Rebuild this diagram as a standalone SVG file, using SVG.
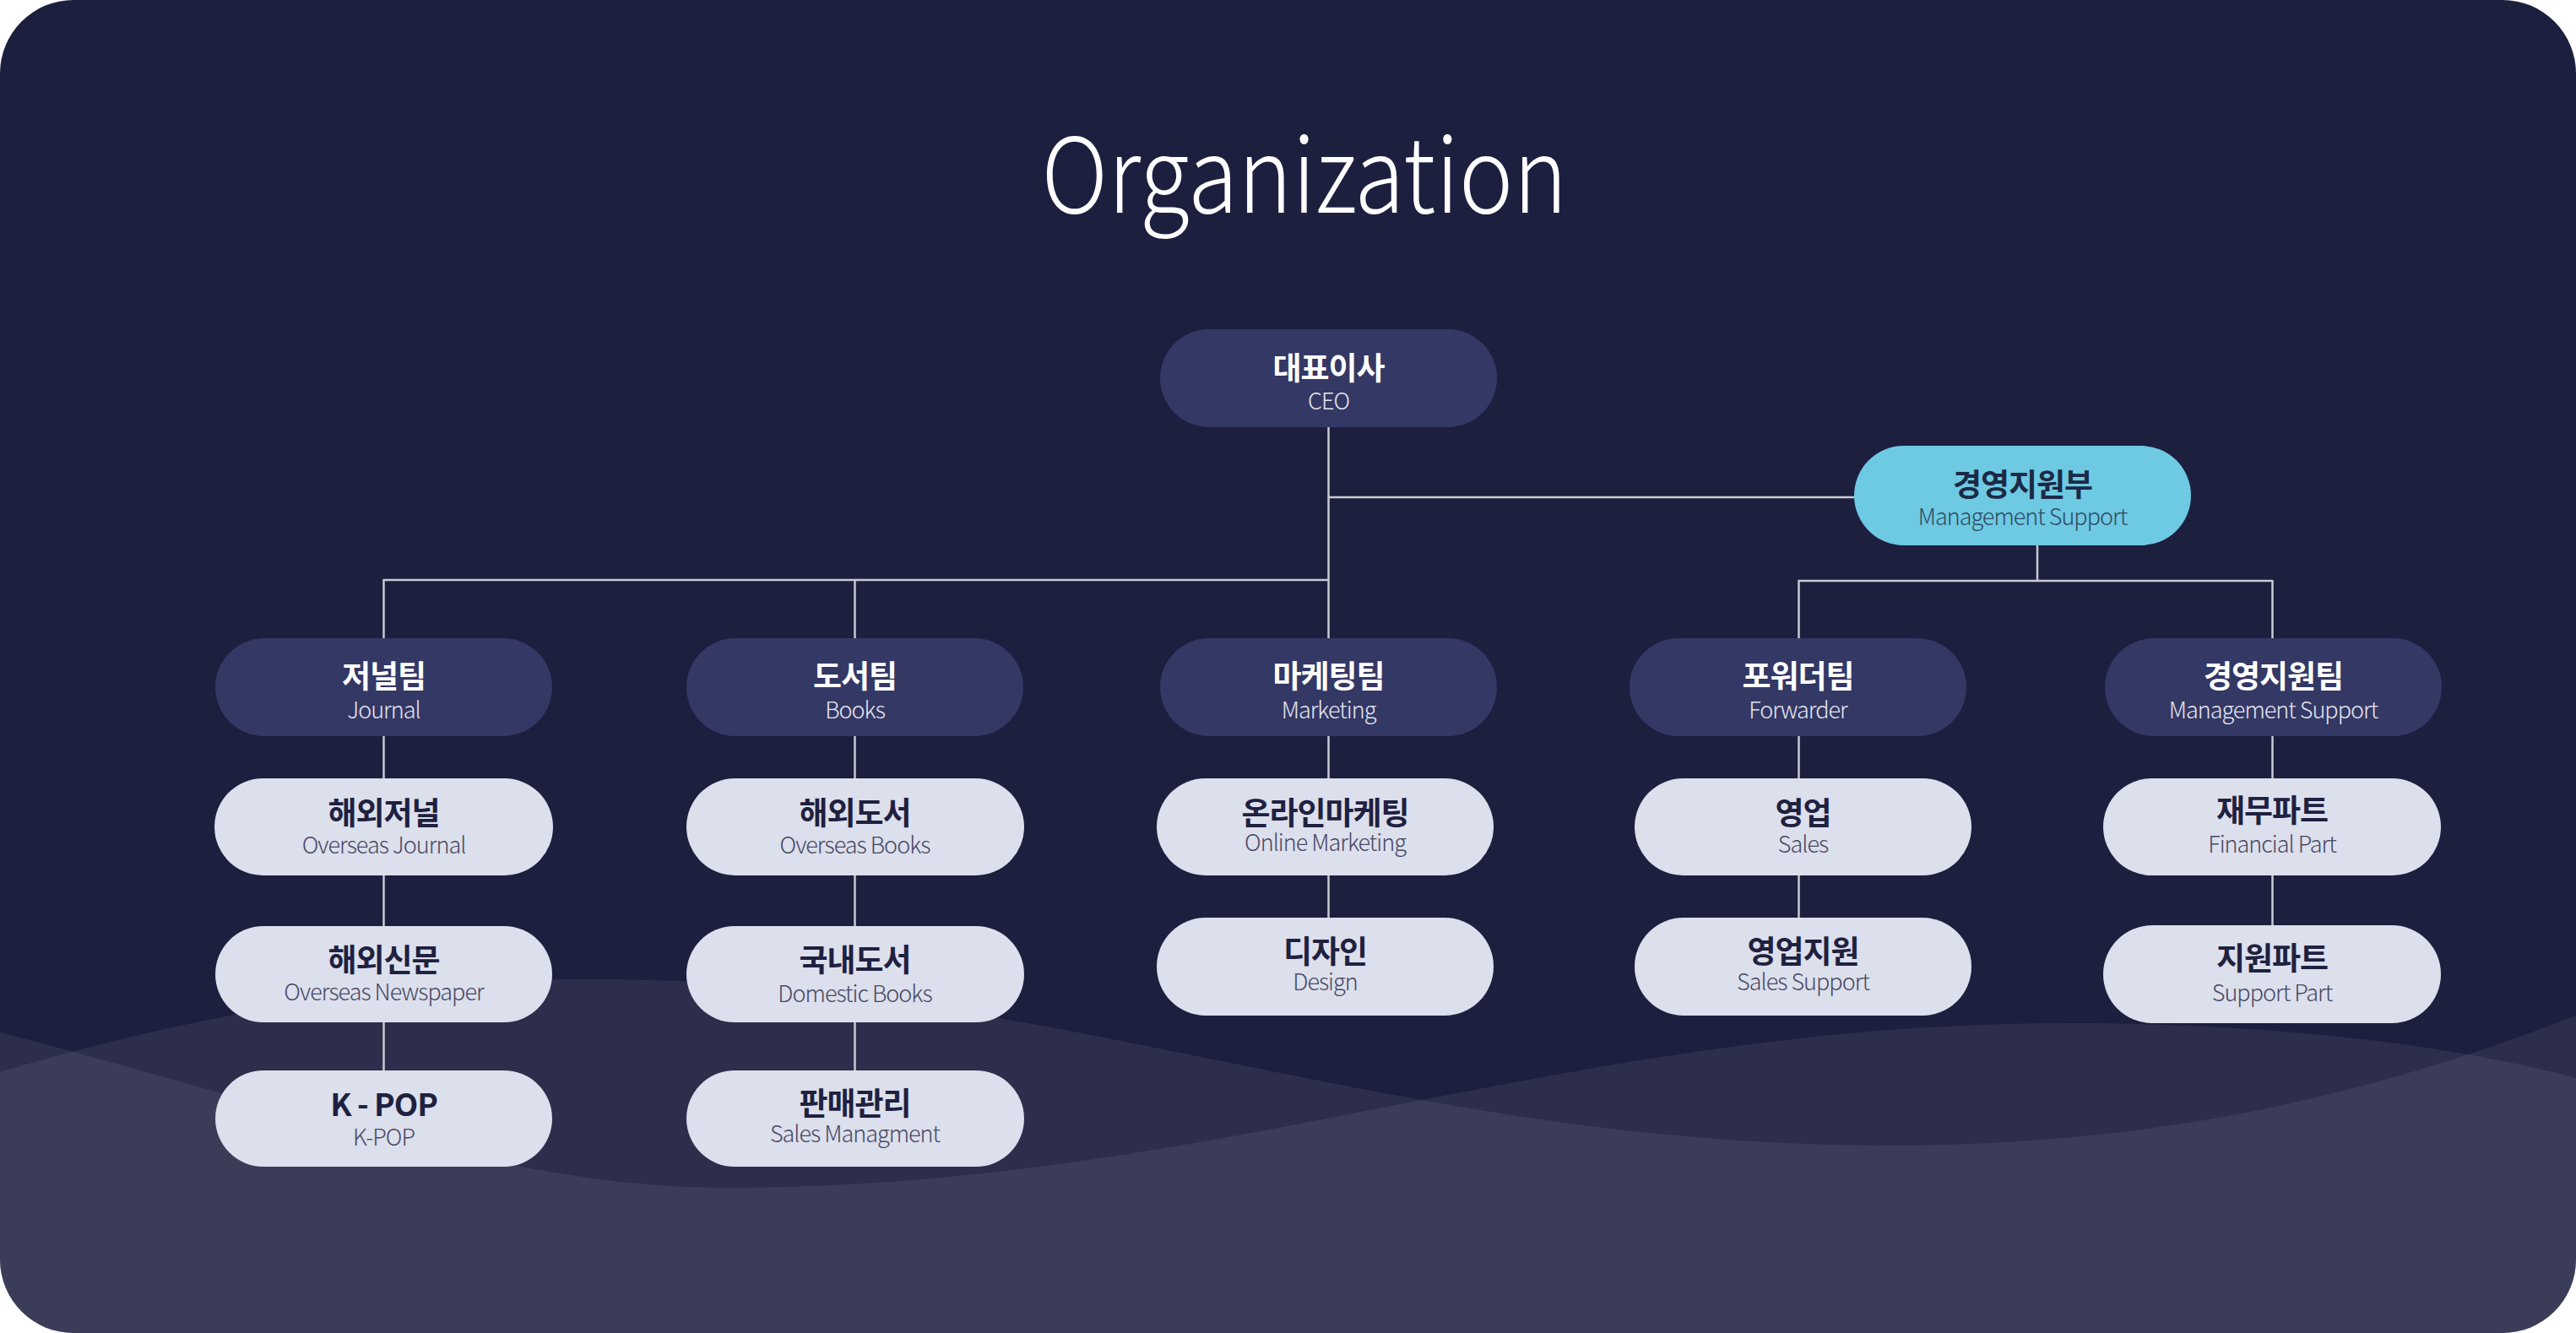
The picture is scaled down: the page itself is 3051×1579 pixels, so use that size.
<svg xmlns="http://www.w3.org/2000/svg" width="3051" height="1579" viewBox="0 0 3051 1579">
<defs>
<clipPath id="card"><rect x="0" y="0" width="3051" height="1579" rx="87" ry="87"/></clipPath>
<style>
.kd{font-family:"Noto Sans CJK KR","Noto Sans",sans-serif;font-weight:700;font-size:37px;fill:#ffffff;text-anchor:middle;letter-spacing:-1px}
.ed{font-family:"Noto Sans CJK KR","Noto Sans",sans-serif;font-weight:300;font-size:27px;fill:#e4e5ef;text-anchor:middle;letter-spacing:-1px}
.kl{font-family:"Noto Sans CJK KR","Noto Sans",sans-serif;font-weight:700;font-size:37px;fill:#1f2140;text-anchor:middle;letter-spacing:-1px}
.el{font-family:"Noto Sans CJK KR","Noto Sans",sans-serif;font-weight:300;font-size:27px;fill:#474963;text-anchor:middle;letter-spacing:-1px}
.kc{font-family:"Noto Sans CJK KR","Noto Sans",sans-serif;font-weight:700;font-size:37px;fill:#1b2a46;text-anchor:middle;letter-spacing:-1px}
.ec{font-family:"Noto Sans CJK KR","Noto Sans",sans-serif;font-weight:300;font-size:27px;fill:#2e4b62;text-anchor:middle;letter-spacing:-1px}
.dark{fill:#343865}
.light{fill:#dcdfec}
.cyan{fill:#6ec9e2}
.ln{stroke:#c9cad3;stroke-width:2.5;fill:none}
.title{font-family:"Noto Sans CJK KR","Noto Sans",sans-serif;font-weight:300;font-size:123px;fill:#ffffff;text-anchor:middle}
</style>
</defs>
<rect x="0" y="0" width="3051" height="1579" fill="#ffffff"/>
<g clip-path="url(#card)">
<rect x="0" y="0" width="3051" height="1579" fill="#1d1f3f"/>
<path d="M0,1270 C200,1210 450,1160 700,1160 C1250,1160 1650,1357 2237,1357 C2600,1357 2850,1280 3051,1203 L3051,1579 L0,1579 Z" fill="#ffffff" fill-opacity="0.07"/>
<path d="M0,1223 C300,1300 600,1407 856,1407 C1450,1407 1850,1212 2451,1212 C2750,1212 2950,1250 3051,1277 L3051,1579 L0,1579 Z" fill="#ffffff" fill-opacity="0.07"/>
</g>
<text class="title" x="1545" y="252" textLength="623" lengthAdjust="spacingAndGlyphs">Organization</text>
<g id="connectors">
<line class="ln" x1="1573.5" y1="506" x2="1573.5" y2="756"/>
<line class="ln" x1="1573.5" y1="589" x2="2197" y2="589" stroke-width="3" stroke="#a9aab6"/>
<line class="ln" x1="454.5" y1="687" x2="1573.5" y2="687"/>
<line class="ln" x1="454.5" y1="686" x2="454.5" y2="756"/>
<line class="ln" x1="1012.5" y1="686" x2="1012.5" y2="756"/>
<line class="ln" x1="2413" y1="646" x2="2413" y2="688"/>
<line class="ln" x1="2130.5" y1="688" x2="2691.5" y2="688"/>
<line class="ln" x1="2130.5" y1="687" x2="2130.5" y2="756"/>
<line class="ln" x1="2691.5" y1="687" x2="2691.5" y2="756"/>
<line class="ln" x1="454.5" y1="872" x2="454.5" y2="1268"/>
<line class="ln" x1="1012.5" y1="872" x2="1012.5" y2="1268"/>
<line class="ln" x1="1573.5" y1="872" x2="1573.5" y2="1087"/>
<line class="ln" x1="2130.5" y1="872" x2="2130.5" y2="1087"/>
<line class="ln" x1="2691.5" y1="872" x2="2691.5" y2="1096"/>
</g>
<g id="ceo"><rect class="dark" x="1374" y="390" width="399" height="116" rx="58"/><text class="kd" x="1573.5" y="450">대표이사</text><text class="ed" x="1573.5" y="485">CEO</text></g>
<g id="mgmt-dept"><rect class="cyan" x="2196" y="528" width="399" height="118" rx="59"/><text class="kc" x="2395.5" y="588">경영지원부</text><text class="ec" x="2395.5" y="622">Management Support</text></g>
<g id="journal"><rect class="dark" x="255" y="756" width="399" height="116" rx="58"/><text class="kd" x="454.5" y="815">저널팀</text><text class="ed" x="454.5" y="851">Journal</text></g>
<g id="books"><rect class="dark" x="813" y="756" width="399" height="116" rx="58"/><text class="kd" x="1012.5" y="815">도서팀</text><text class="ed" x="1012.5" y="851">Books</text></g>
<g id="marketing"><rect class="dark" x="1374" y="756" width="399" height="116" rx="58"/><text class="kd" x="1573.5" y="815">마케팅팀</text><text class="ed" x="1573.5" y="851">Marketing</text></g>
<g id="forwarder"><rect class="dark" x="1930" y="756" width="399" height="116" rx="58"/><text class="kd" x="2129.5" y="815">포워더팀</text><text class="ed" x="2129.5" y="851">Forwarder</text></g>
<g id="mgmt-team"><rect class="dark" x="2493" y="756" width="399" height="116" rx="58"/><text class="kd" x="2692.5" y="815">경영지원팀</text><text class="ed" x="2692.5" y="851">Management Support</text></g>
<g id="overseas-journal"><rect class="light" x="254" y="922" width="401" height="115" rx="57.5"/><text class="kl" x="454.5" y="977">해외저널</text><text class="el" x="454.5" y="1011">Overseas Journal</text></g>
<g id="overseas-newspaper"><rect class="light" x="255" y="1097" width="399" height="114" rx="57"/><text class="kl" x="454.5" y="1151">해외신문</text><text class="el" x="454.5" y="1185">Overseas Newspaper</text></g>
<g id="kpop"><rect class="light" x="255" y="1268" width="399" height="114" rx="57"/><text class="kl" x="454.5" y="1322">K - POP</text><text class="el" x="454.5" y="1357">K-POP</text></g>
<g id="overseas-books"><rect class="light" x="813" y="922" width="400" height="115" rx="57.5"/><text class="kl" x="1012.5" y="977">해외도서</text><text class="el" x="1012.5" y="1011">Overseas Books</text></g>
<g id="domestic-books"><rect class="light" x="813" y="1097" width="400" height="114" rx="57"/><text class="kl" x="1012.5" y="1151">국내도서</text><text class="el" x="1012.5" y="1187">Domestic Books</text></g>
<g id="sales-mgmt"><rect class="light" x="813" y="1268" width="400" height="114" rx="57"/><text class="kl" x="1012.5" y="1321">판매관리</text><text class="el" x="1012.5" y="1353">Sales Managment</text></g>
<g id="online-marketing"><rect class="light" x="1370" y="922" width="399" height="115" rx="57.5"/><text class="kl" x="1569.5" y="977">온라인마케팅</text><text class="el" x="1569.5" y="1008">Online Marketing</text></g>
<g id="design"><rect class="light" x="1370" y="1087" width="399" height="116" rx="58"/><text class="kl" x="1569.5" y="1141">디자인</text><text class="el" x="1569.5" y="1173">Design</text></g>
<g id="sales"><rect class="light" x="1936" y="922" width="399" height="115" rx="57.5"/><text class="kl" x="2135.5" y="977">영업</text><text class="el" x="2135.5" y="1010">Sales</text></g>
<g id="sales-support"><rect class="light" x="1936" y="1087" width="399" height="116" rx="58"/><text class="kl" x="2135.5" y="1141">영업지원</text><text class="el" x="2135.5" y="1173">Sales Support</text></g>
<g id="financial"><rect class="light" x="2491" y="922" width="400" height="115" rx="57.5"/><text class="kl" x="2691" y="974">재무파트</text><text class="el" x="2691" y="1010">Financial Part</text></g>
<g id="support-part"><rect class="light" x="2491" y="1096" width="400" height="116" rx="58"/><text class="kl" x="2691" y="1149">지원파트</text><text class="el" x="2691" y="1186">Support Part</text></g>
</svg>
